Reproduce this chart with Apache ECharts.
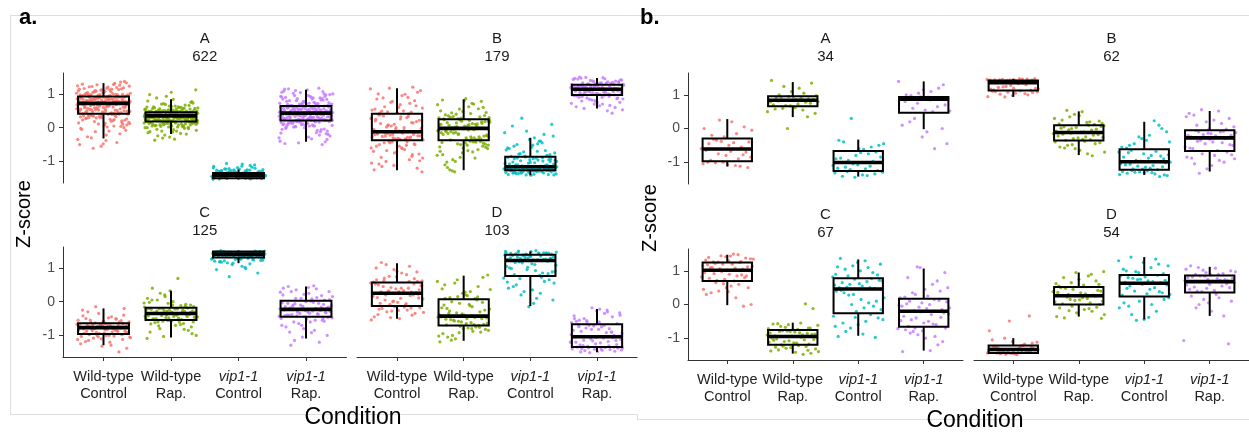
<!DOCTYPE html>
<html>
<head>
<meta charset="utf-8">
<script src="https://cdn.jsdelivr.net/npm/echarts@6/dist/echarts.min.js"></script>
<style>
  html, body { margin: 0; padding: 0; background: #fff; }
  #chart { width: 1249px; height: 435px; }
</style>
</head>
<body>
<div id="chart"></div>
<script>
// ---- conditions (x categories) ----
const genotypes = ['Wild-type', 'Wild-type', 'vip1-1', 'vip1-1'];
const treatments = ['Control', 'Rap.', 'Control', 'Rap.'];
const facetNames = ['A', 'B', 'C', 'D'];
const geneCountsA = [622, 179, 125, 103];
const geneCountsB = [34, 62, 67, 54];
const yTickValues = [-1, 0, 1];

// ---- box statistics: [lower whisker, Q1, median, Q3, upper whisker] per condition ----
const boxA_A = [[-0.32, 0.41, 0.72, 0.92, 1.32], [-0.19, 0.18, 0.35, 0.46, 0.84], [-1.53, -1.50, -1.41, -1.34, -1.24], [-0.42, 0.21, 0.43, 0.64, 1.12]];
const boxA_B = [[-1.26, -0.37, -0.12, 0.41, 1.17], [-1.26, -0.37, -0.02, 0.25, 0.84], [-1.41, -1.26, -1.16, -0.86, -0.30], [0.57, 0.97, 1.14, 1.27, 1.47]];
const boxA_C = [[-1.29, -0.96, -0.77, -0.64, -0.20], [-1.06, -0.54, -0.35, -0.18, 0.32], [1.14, 1.31, 1.41, 1.49, 1.52], [-1.09, -0.45, -0.23, 0.03, 0.45]];
const boxA_D = [[-0.51, -0.13, 0.25, 0.57, 1.14], [-1.16, -0.71, -0.43, 0.07, 0.77], [-0.13, 0.76, 1.22, 1.39, 1.49], [-1.49, -1.34, -1.04, -0.67, -0.22]];
const boxB_A = [[-1.13, -0.97, -0.61, -0.30, 0.28], [0.34, 0.66, 0.84, 0.96, 1.38], [-1.43, -1.26, -1.01, -0.67, -0.33], [-0.02, 0.47, 0.87, 0.94, 1.40]];
const boxB_B = [[0.94, 1.13, 1.36, 1.43, 1.48], [-0.79, -0.36, -0.12, 0.10, 0.51], [-1.38, -1.23, -0.99, -0.62, 0.20], [-1.28, -0.67, -0.28, -0.05, 0.52]];
const boxB_C = [[-0.02, 0.70, 1.02, 1.25, 1.48], [-1.46, -1.20, -0.95, -0.76, -0.54], [-0.93, -0.26, 0.46, 0.78, 1.34], [-1.37, -0.66, -0.20, 0.17, 1.07]];
const boxB_D = [[-1.48, -1.44, -1.34, -1.22, -1.00], [-0.36, 0.00, 0.26, 0.52, 0.95], [-0.44, 0.24, 0.63, 0.88, 1.41], [-0.34, 0.36, 0.68, 0.86, 1.12]];

// ---- per-gene z-scores, one list per condition ----
const ptsA_A = [
  [1.02,.95,1.21,.99,1.12,.93,1.31,1.06,.97,1.17,1.0,1.26,.94,1.09,1.14,.98,1.37,1.04,.96,1.19,1.08,1.23,.93,1.01,1.15,1.11,.97,1.28,1.05,1.33,
   .81,.74,.9,.77,.86,.73,.84,.79,.91,.76,.88,.82,.75,.87,.8,.73,.89,.78,.85,.83,.76,.9,.74,.8,.87,.78,.84,.92,.77,.82,
   .55,.43,.68,.49,.62,.46,.71,.52,.58,.44,.65,.5,.6,.42,.69,.53,.47,.64,.57,.45,.7,.51,.61,.48,.66,.54,.59,.43,.67,.56,
   .25,.38,.1,.31,-.05,.36,.18,.4,.02,.28,-.18,.33,.14,.39,-.3,.22,.07,.35,-.44,.29,.12,-.1,.37,.2,-.55,.32,.05,-.61,.26,-.38,
   1.0,1.13,.96,1.24,1.07,.94,1.18,1.03,1.29,.99,1.1,.95,1.2,1.04,1.35,.98,1.14,1.01,1.22,.93,1.08,1.16,.97,1.27,1.02,1.12,.95,
   .83,.75,.89,.78,.86,.73,.91,.8,.77,.88,.74,.85,.81,.9,.76,.84,.79,.87,.72,.82,.78,.9,.75,.86,.8,.83,.77,
   .5,.63,.45,.57,.68,.42,.54,.61,.47,.7,.52,.59,.44,.66,.49,.56,.64,.46,.71,.53,.6,.43,.67,.51,.58,.48,.65,
   .3,.15,.38,-.02,.24,.34,.08,-.22,.27,.4,.11,-.35,.19,.36,0,-.48,.23,.33,-.12,.16,.39,-.27,.04,.3,-.5,.21,.37,-.08,.13],
  [.52,.47,.63,.49,.58,.71,.5,.55,.48,.66,.53,.79,.6,.47,.51,.84,.57,.49,.69,.54,.62,.48,.75,.52,.98,.56,.5,1.12,.64,.59,
   .4,.37,.44,.36,.42,.39,.45,.38,.41,.36,.43,.4,.37,.46,.39,.42,.35,.44,.38,.41,.36,.45,.4,.43,.37,.39,.44,.42,.38,.41,
   .27,.2,.33,.24,.3,.19,.26,.34,.22,.29,.18,.31,.25,.21,.32,.28,.23,.35,.2,.27,.3,.19,.24,.33,.22,.29,.26,.21,.31,.25,
   .12,.05,.16,-.02,.09,.14,-.1,.07,.17,.02,-.15,.11,.04,.15,-.06,.1,-.19,.13,0,.08,-.24,.16,.03,-.12,.06,-.31,.1,.14,-.37,.01,
   .5,.61,.48,.56,.73,.53,.47,.67,.51,.59,.49,.88,.55,.64,.48,.52,.7,.57,.5,.62,.47,.93,.54,.6,.49,.77,1.05,
   .38,.43,.36,.41,.45,.39,.44,.37,.42,.4,.46,.36,.43,.38,.41,.45,.37,.4,.44,.39,.42,.36,.43,.38,.45,.41,.4,
   .22,.3,.19,.27,.33,.24,.2,.31,.26,.34,.21,.28,.23,.32,.25,.19,.29,.35,.22,.27,.3,.2,.33,.24,.28,.21,.26,
   .1,.15,.03,.12,-.08,.17,.06,-.03,.13,0,-.17,.09,.16,-.13,.05,.11,-.22,.14,.02,-.05,.08,-.28,.12,.04,-.1,.15,-.34],
  [-1.42,-1.38,-1.47,-1.36,-1.44,-1.5,-1.4,-1.33,-1.45,-1.39,-1.52,-1.37,-1.43,-1.35,-1.48,-1.41,-1.34,-1.46,-1.38,-1.51,
   -1.4,-1.36,-1.44,-1.49,-1.37,-1.42,-1.33,-1.47,-1.39,-1.45,-1.35,-1.5,-1.41,-1.38,-1.43,-1.36,-1.46,-1.4,-1.53,-1.34,
   -1.42,-1.37,-1.48,-1.39,-1.44,-1.35,-1.41,-1.47,-1.38,-1.43,-1.32,-1.45,-1.4,-1.36,-1.49,-1.42,-1.3,-1.46,-1.39,-1.44,
   -1.28,-1.22,-1.31,-1.18,-1.26,-1.12,-1.29,-1.24,-1.08,-1.27,-1.2,-1.3,-1.15,-1.25,-1.06,-1.29,-1.23,-1.31,-1.17,-1.27,
   -1.41,-1.45,-1.37,-1.49,-1.43,-1.35,-1.47,-1.39,-1.51,-1.42,-1.36,-1.44,-1.4,-1.48,-1.34,-1.46,-1.38,-1.5,-1.41,-1.43,
   -1.37,-1.45,-1.39,-1.47,-1.42,-1.36,-1.44,-1.4,-1.33,-1.46,-1.38,-1.52,-1.41,-1.35,-1.43,-1.48,-1.39,-1.45,-1.42,-1.37,
   -1.26,-1.21,-1.3,-1.14,-1.28,-1.1,-1.25,-1.19,-1.29,-1.23],
  [.82,.67,1.05,.73,.95,.66,1.12,.78,.88,.7,1.0,.85,.65,.92,.76,1.08,.69,.8,.98,.72,1.15,.87,.68,.93,.75,1.02,.84,.71,.9,1.17,
   .52,.45,.6,.48,.56,.63,.44,.54,.5,.61,.47,.58,.53,.64,.46,.55,.62,.49,.57,.51,.44,.59,.53,.48,.63,.46,.56,.5,.6,.54,
   .32,.23,.4,.27,.36,.22,.3,.42,.25,.34,.29,.38,.21,.33,.26,.41,.28,.35,.24,.31,.39,.22,.37,.27,.3,.43,.25,.34,.29,.36,
   .1,-.05,.17,.03,-.2,.13,.06,-.12,.19,-.3,.08,.15,-.42,0,.11,-.08,.18,-.25,.05,.14,-.5,.09,-.16,.2,.02,-.35,.12,-.02,.16,-.45,
   .7,.9,.66,1.0,.78,.85,.67,1.1,.74,.95,.69,.82,1.04,.72,.88,.65,.97,.77,1.14,.71,.86,.68,.93,.8,1.07,.73,.91,
   .47,.58,.44,.52,.62,.49,.55,.45,.6,.51,.64,.46,.57,.5,.63,.48,.54,.59,.44,.53,.61,.47,.56,.5,.62,.45,.58,
   .25,.35,.22,.31,.4,.28,.37,.23,.33,.42,.26,.3,.39,.24,.34,.29,.41,.21,.36,.27,.32,.38,.25,.3,.35,.22,.4,
   .15,.05,.19,-.1,.12,.01,-.22,.17,.07,-.33,.14,-.04,.2,.09,-.15,.03,.18,-.28,.11,-.06,.16,-.4,.06,.13,-.18,.08,-.47]
];
const ptsA_B = [
  [.55,.9,.47,1.1,.68,.43,1.2,.78,.52,.99,.62,1.05,.45,.85,.72,1.17,.58,.95,.49,.8,
   .1,-.05,.3,.02,.22,-.1,.38,.15,.05,.27,-.08,.35,.18,0,.25,.4,.08,-.02,.32,.12,
   -.2,-.3,-.15,-.35,-.25,-.13,-.32,-.18,-.28,-.22,-.36,-.16,-.26,-.14,-.33,-.21,-.29,-.17,-.24,-.34,
   -.5,-.8,-.42,-1.05,-.65,-.45,-1.2,-.72,-.55,-.95,-.4,-1.31,-.6,-.88,-.48,-1.12,-.7,-.52,-1.0,-.78,
   .6,1.0,.46,.75,1.15,.5,.88,.65,-.05,.2,.33,.07,-.11,.26,.38,.14,-.2,-.28,-.33,-.16,
   -.24,-.36,-.19,-.3,-.45,-.9,-.62,-1.15,-.5,-.75,-1.25,-.42,-.68,-.98,-.55,-1.08,-.85,-.4,-.6,0],
  [.4,.3,.62,.35,.78,.28,.5,.7,.33,.45,.86,.38,.56,.27,.68,.42,.31,.6,.48,.82,
   .1,.02,.2,.06,.15,-.01,.23,.08,.12,0,.18,.05,.24,.11,.03,.16,.21,.07,.13,.19,
   -.15,-.3,-.05,-.22,-.35,-.1,-.27,-.18,-.08,-.32,-.12,-.25,-.04,-.2,-.36,-.14,-.28,-.07,-.17,-.33,
   -.5,-.7,-.42,-.95,-.58,-.45,-1.1,-.65,-.48,-.82,-.4,-1.25,-.55,-.75,-.44,-.9,-1.31,-.62,-.52,-1.02,
   .32,.55,.29,.72,.44,.36,.8,.26,.04,.14,.22,.09,-.01,.17,.24,.1,-.06,-.16,-.24,-.3,
   -.11,-.34,-.2,-.09,-.27,-.36,-.46,-.6,-.8,-.43,-1.0,-.52,-.68,-1.18,-.41,-.88,-.57,-.72,-1.28,-.49],
  [-.7,-.5,-.8,-.35,-.62,-.45,.28,-.75,-.3,-.55,-.82,-.1,-.66,-.4,-.78,.1,-.58,-.85,-.2,-.72,
   -1.0,-.9,-1.1,-.95,-1.05,-.88,-1.14,-.98,-1.08,-.92,-1.02,-1.12,-.87,-1.06,-.96,-1.1,-.93,-1.03,-1.15,-.99,
   -1.2,-1.17,-1.24,-1.19,-1.22,-1.18,-1.25,-1.21,-1.16,-1.23,-1.19,-1.26,-1.2,-1.17,-1.22,-1.24,-1.18,-1.21,-1.25,-1.2,
   -1.3,-1.35,-1.28,-1.38,-1.32,-1.27,-1.4,-1.33,-1.29,-1.36,-1.31,-1.41,-1.28,-1.34,-1.3,-1.37,-1.27,-1.33,-1.39,-1.29,
   -.6,-.4,-.77,-.25,-.52,.05,-.68,-.84,-.15,-.48,-.9,-1.0,-.95,-1.07,-.89,-1.13,-.97,-1.04,-.92,-1.1,
   -1.18,-1.22,-1.2,-1.25,-1.17,-1.23,-1.19,-1.21,-1.24,-1.16,-1.3,-1.36,-1.28,-1.33,-1.39,-1.27,-1.32,-1.4,-1.29,-1.35],
  [1.35,1.29,1.44,1.31,1.4,1.28,1.48,1.33,1.38,1.3,1.46,1.36,1.29,1.42,1.32,1.5,1.34,1.39,1.28,1.45,
   1.2,1.16,1.25,1.18,1.22,1.15,1.26,1.19,1.23,1.17,1.21,1.24,1.15,1.2,1.27,1.18,1.22,1.16,1.25,1.19,
   1.05,.99,1.12,1.02,1.08,.98,1.1,1.04,1.13,1.0,1.07,1.11,.97,1.06,1.03,1.09,1.01,1.13,.98,1.06,
   .85,.7,.92,.6,.8,.95,.5,.88,.75,.65,.9,.43,.82,.72,.96,.57,.86,.78,.62,.93,
   1.3,1.41,1.33,1.47,1.28,1.37,1.43,1.32,1.49,1.36,1.17,1.23,1.15,1.2,1.26,1.18,1.22,1.16,1.24,1.19,
   1.0,1.08,1.12,.98,1.05,1.1,1.02,1.13,.99,1.07,.88,.75,.94,.66,.84,.53,.9,.79,.97,.7]
];
const ptsA_C = [
  [-.5,-.6,-.35,-.55,-.45,-.62,-.2,-.58,-.42,-.52,-.15,-.6,-.48,-.3,-.56,
   -.7,-.66,-.75,-.68,-.72,-.65,-.76,-.69,-.73,-.67,-.71,-.74,-.66,-.7,-.77,
   -.85,-.8,-.92,-.82,-.88,-.78,-.95,-.84,-.9,-.79,-.87,-.93,-.81,-.86,-.91,
   -1.05,-1.0,-1.15,-.98,-1.1,-1.25,-1.02,-1.08,-1.38,-1.0,-1.18,-1.49,-1.04,-1.12,-1.29,
   -.55,-.4,-.6,-.25,-.5,-.63,-.66,-.72,-.7,-.75,-.68,-.74,-.8,-.86,-.9,-.83,-.94,-.88,-1.0,-1.07,-1.2,-.98,-1.12,-1.32,-1.03],
  [-.05,.1,-.12,.25,-.15,0,.4,-.08,.15,-.16,.69,.05,-.1,.32,-.02,
   -.25,-.2,-.3,-.22,-.33,-.19,-.28,-.24,-.35,-.21,-.27,-.31,-.23,-.29,-.26,
   -.45,-.4,-.5,-.38,-.48,-.42,-.53,-.36,-.46,-.44,-.51,-.39,-.47,-.43,-.49,
   -.6,-.75,-.57,-.9,-.65,-.58,-1.0,-.7,-.62,-.85,-.56,-1.09,-.68,-.8,-.6,
   -.1,.05,-.14,.2,-.04,-.22,-.28,-.32,-.25,-.2,-.3,-.41,-.48,-.37,-.52,-.44,-.39,-.5,-.6,-.72,-.95,-.58,-.66,-.82,-1.03],
  [1.42,1.38,1.47,1.35,1.44,1.5,1.4,1.33,1.45,1.39,1.48,1.36,1.43,1.31,1.46,1.41,1.34,1.49,1.37,1.44,
   1.4,1.32,1.47,1.38,1.45,1.51,1.42,1.35,1.43,1.39,1.46,1.33,1.41,1.48,1.36,1.44,1.3,1.42,1.37,1.45,
   1.25,1.2,1.28,1.15,1.22,1.27,1.18,1.24,1.1,1.26,1.02,1.21,.85,1.28,.95,1.12,.74,1.23,1.05,1.17,
   1.43,1.37,1.46,1.4,1.34,1.48,1.42,1.36,1.45,1.39,1.5,1.32,1.44,1.38,1.41,1.47,1.35,1.43,1.3,1.26,1.19,1.24,1.14,1.28,.98],
  [.15,.08,.3,.05,.22,.4,.12,.35,.06,.25,.45,.18,.1,.28,.47,
   -.1,-.2,0,-.15,-.05,-.22,-.12,.02,-.18,-.08,-.14,-.03,-.2,-.06,-.16,
   -.3,-.4,-.26,-.35,-.43,-.28,-.38,-.32,-.45,-.25,-.36,-.42,-.29,-.34,-.4,
   -.55,-.7,-.5,-.85,-.6,-1.0,-.52,-.75,-1.2,-.65,-.48,-.92,-1.29,-.58,-.8,
   .2,.38,.1,.3,.42,-.05,-.17,-.1,-.21,-.02,-.13,-.33,-.27,-.41,-.37,-.31,-.44,-.6,-.9,-.5,-1.05,-.7,-.55,-1.15,-.47]
];
const ptsA_D = [
  [.7,.6,.9,.65,1.05,.75,.62,.85,1.16,.68,.95,.58,.8,1.1,
   .35,.3,.5,.28,.42,.55,.33,.45,.27,.38,.52,.4,.3,.47,
   .1,-.05,.2,0,.15,-.1,.05,.22,-.02,.12,.18,-.08,.08,.24,
   -.2,-.35,-.15,-.45,-.25,-.3,-.18,-.5,-.22,-.4,-.28,-.54,-.16,
   .63,.88,.74,1.0,.6,.32,.48,.4,.29,.53,.02,.17,-.06,.2,.11,-.26,-.38,-.19,-.47,-.32],
  [.2,.1,.45,.15,.6,.3,.12,.72,.25,.38,.09,.55,.79,.18,
   -.2,-.3,-.05,-.38,-.15,0,-.25,-.4,-.1,.05,-.33,-.22,-.08,-.35,
   -.5,-.6,-.45,-.68,-.55,-.48,-.65,-.52,-.7,-.58,-.46,-.62,-.53,-.67,
   -.8,-.95,-.75,-1.1,-.85,-.78,-1.05,-.9,-.73,-1.19,-.88,-1.0,-.82,
   .28,.5,.14,.65,.36,-.12,-.28,-.02,-.36,-.18,-.47,-.57,-.64,-.5,-.69,-.76,-.92,-1.02,-.8,-1.14],
  [1.42,1.4,1.46,1.44,1.5,1.41,1.48,1.43,1.45,1.39,1.47,1.51,1.42,1.44,
   1.3,1.25,1.35,1.28,1.33,1.23,1.37,1.26,1.31,1.38,1.24,1.32,1.29,1.36,
   1.0,.85,1.15,.9,1.1,.8,1.2,.95,1.05,.78,1.18,.88,1.12,.98,
   .6,.3,.7,.1,.5,.65,-.15,.4,.72,.2,.55,-.05,.45,
   1.45,1.41,1.49,1.43,1.47,1.27,1.34,1.3,1.25,1.36,1.08,.92,1.16,.83,1.02,.58,.25,.68,.05,.35],
  [-.5,-.3,-.6,-.4,-.22,-.55,-.45,-.18,-.62,-.35,-.5,-.65,-.28,-.58,
   -.8,-.7,-.95,-.75,-.88,-1.0,-.72,-.85,-.92,-.78,-1.02,-.82,-.68,-.9,
   -1.1,-1.2,-1.08,-1.3,-1.15,-1.25,-1.05,-1.18,-1.32,-1.12,-1.22,-1.28,-1.07,-1.16,
   -1.4,-1.36,-1.45,-1.38,-1.48,-1.35,-1.42,-1.51,-1.37,-1.44,-1.39,-1.47,-1.41,
   -.42,-.25,-.56,-.33,-.6,-.74,-.9,-.82,-.98,-.7,-1.14,-1.27,-1.06,-1.2,-1.31,-1.37,-1.43,-1.4,-1.49,-1.35]
];
const ptsB_A = [
  [.25,-.05,.2,-.2,.05,-.25,0,-.15, -.35,-.4,-.5,-.45,-.55,-.38,-.6,-.42,-.32,
   -.7,-.8,-.65,-.9,-.75,-.85,-.68,-.95,-.78, -1.0,-1.05,-1.1,-1.02,-1.16,-1.08,-1.0,-1.12],
  [1.2,1.0,1.35,1.1,1.43,1.05,1.25,.98, .86,.92,.88,.95,.85,.9,.93,.87,.94,
   .7,.78,.68,.8,.73,.82,.75,.67,.79, .55,.6,.45,.62,.58,.35,0,.5],
  [-.5,-.6,-.35,-.55,.3,-.45,-.62,-.4, -.7,-.8,-.9,-.75,-.95,-.85,-.72,-.88,-.98,
   -1.05,-1.1,-1.2,-1.15,-1.25,-1.08,-1.18,-1.12,-1.22, -1.3,-1.38,-1.42,-1.35,-1.45,-1.32,-1.4,-1.28],
  [1.0,1.2,1.05,1.4,1.1,.98,1.3,1.15, .88,.9,.92,.89,.93,.91,.88,.94,.9,
   .5,.6,.7,.55,.8,.65,.75,.52,.85, .2,0,-.25,.1,-.6,.3,-.45,-.1]
];
const ptsB_B = [
  [1.45,1.44,1.47,1.46,1.48,1.44,1.45,1.47,1.43,1.46,1.48,1.45,1.44,
   1.38,1.4,1.37,1.42,1.39,1.41,1.36,1.4,1.38,1.42,1.37,1.39,1.41,
   1.2,1.15,1.3,1.25,1.18,1.33,1.22,1.14,1.28,1.17,1.35,1.24,1.19,
   1.05,1.1,1.0,1.08,.95,1.12,1.02,1.07,.98,1.11,1.04,.94,1.09],
  [.2,.35,.15,.5,.25,.12,.42,.3,.18,.54,.22,.38,.14,
   -.05,0,.08,-.1,.05,-.02,.03,-.08,.1,-.04,.06,-.11,.01,
   -.2,-.3,-.15,-.25,-.35,-.18,-.28,-.22,-.33,-.14,-.26,-.32,-.17,
   -.45,-.6,-.4,-.75,-.5,-.42,-.65,-.55,-.81,-.48,-.7,-.38,-.58],
  [-.4,-.2,-.5,0,-.3,-.55,.23,-.45,-.1,-.35,-.58,.1,-.25,
   -.7,-.8,-.65,-.9,-.75,-.85,-.68,-.95,-.78,-.88,-.72,-.82,-.97,
   -1.05,-1.1,-1.2,-1.02,-1.15,-1.08,-1.22,-1.12,-1.0,-1.18,-1.06,-1.14,-1.21,
   -1.28,-1.35,-1.3,-1.4,-1.26,-1.33,-1.43,-1.29,-1.37,-1.31,-1.25,-1.38,-1.32],
  [.1,.3,0,.45,.15,.56,.05,.25,.4,-.02,.2,.35,.52,
   -.1,-.2,-.15,-.25,-.08,-.18,-.12,-.22,-.06,-.27,-.14,-.2,-.1,
   -.35,-.5,-.4,-.6,-.3,-.45,-.55,-.65,-.38,-.48,-.32,-.58,-.42,
   -.75,-.9,-.8,-1.05,-.7,-1.2,-.85,-.95,-1.33,-.78,-1.1,-.88,-1.0]
];
const ptsB_C = [
  [1.3,1.4,1.28,1.45,1.35,1.5,1.27,1.38,1.42,1.32,1.48,1.26,1.36,1.44,
   1.1,1.05,1.2,1.15,1.08,1.22,1.12,1.03,1.18,1.25,1.07,1.14,1.2,1.1,
   .8,.75,.95,.85,.72,1.0,.9,.78,.88,.98,.82,.7,.92,.85,
   .5,.3,.6,.4,0,.55,.35,-.05,.62,.45,.2,.65,.5,.38],
  [-.7,-.6,-.72,-.55,-.65,-.12,-.75,-.58,.02,-.68,-.62,-.74,-.57,-.7,
   -.8,-.85,-.9,-.78,-.88,-.82,-.93,-.86,-.79,-.91,-.84,-.8,-.89,-.94,
   -1.0,-1.05,-1.1,-.98,-1.15,-1.02,-1.18,-1.08,-1.12,-.97,-1.2,-1.04,-1.14,-1.06,
   -1.25,-1.3,-1.4,-1.22,-1.35,-1.45,-1.28,-1.38,-1.48,-1.24,-1.32,-1.42,-1.27,-1.36],
  [.9,1.1,.85,1.2,1.0,1.37,.95,1.15,.82,1.3,1.05,.88,1.25,1.12,
   .5,.6,.7,.55,.65,.48,.75,.58,.68,.52,.72,.62,.5,.77,
   0,.2,-.1,.35,.1,-.2,.4,.05,.28,-.15,.15,.42,-.05,.3,
   -.35,-.5,-.8,-.4,-.6,-.95,-.3,-.7,-.45,-.88,-.55,-.98,-.38,-.65],
  [.3,.5,.25,.8,.4,1.1,.2,.6,.35,.95,.45,.22,.7,1.12,
   -.1,0,.1,-.15,.05,-.05,.15,-.18,.08,-.12,.02,.12,-.08,-.02,
   -.3,-.45,-.25,-.55,-.35,-.6,-.4,-.28,-.5,-.65,-.38,-.22,-.48,-.58,
   -.8,-.7,-1.0,-.75,-1.2,-.9,-.72,-1.37,-.85,-1.1,-.78,-1.4,-.95,-.7]
];
const ptsB_D = [
  [-1.3,-1.4,-1.25,-1.45,-1.35,-1.2,-1.42,-1.33,-1.47,-1.28,-1.38,-1.44,
   -1.36,-1.23,-1.46,-1.32,-1.41,-1.27,-1.37,-1.48,-1.34,-1.43,-1.29,-1.39,
   -1.45,-1.31,-1.22,-1.4,-1.35,-1.47,-1.26,-1.42,-1.38,-1.44,-1.33,-1.46,
   -1.15,-1.1,-1.05,-1.18,-1.0,-1.12,-1.49,-1.44,-.34,-.49,-.78,-1.41],
  [.6,.75,.55,.9,.65,.98,.58,.8,.7,.95,.62,.85,
   .3,.4,.35,.5,.28,.45,.38,.32,.48,.42,.27,.36,
   .05,.15,.1,.2,.02,.25,.12,.08,.18,.22,0,.14,
   -.1,-.2,-.05,-.3,-.15,-.4,-.08,-.25,-.36,-.12,-.18,-.41],
  [1.0,1.2,.95,1.3,1.1,1.41,.92,1.25,1.05,1.35,.98,1.15,
   .7,.8,.65,.75,.85,.68,.78,.72,.82,.66,.87,.74,
   .3,.45,.55,.35,.6,.28,.5,.4,.58,.32,.48,.38,
   .1,-.1,0,-.3,.15,-.44,.05,-.2,-.47,.2,-.38,-.05],
  [.95,1.05,.9,1.1,1.0,.88,1.15,.92,1.02,.97,1.08,.9,
   .7,.75,.8,.72,.85,.78,.69,.82,.74,.84,.71,.77,
   .4,.5,.6,.45,.55,.38,.65,.42,.52,.62,.48,.58,
   .2,0,.1,-.2,.25,-.34,.15,-1.07,.3,-.1,-1.17,.05]
];

// ---- drawing ----
const FONT = "'Liberation Sans', Arial, Helvetica, sans-serif";
const palette = ['#F8766D', '#7CAE00', '#00BFC4', '#C77CFF'];

const panels = [
  {
    tag: 'a.', tagX: 19, counts: geneCountsA,
    boxes: [boxA_A, boxA_B, boxA_C, boxA_D],
    points: [ptsA_A, ptsA_B, ptsA_C, ptsA_D],
    cells: [[63, 73, 283.5, 110], [357, 73, 280, 110], [63, 247, 283.5, 110], [357, 247, 280, 110]],
    yMin: -1.64, yMax: 1.62, yTitle: [24, 214], xTitle: [353, 418]
  },
  {
    tag: 'b.', tagX: 640, counts: geneCountsB,
    boxes: [boxB_A, boxB_B, boxB_C, boxB_D],
    points: [ptsB_A, ptsB_B, ptsB_C, ptsB_D],
    cells: [[688, 73, 275, 111], [974, 73, 275, 111], [688, 249, 275, 111], [974, 249, 275, 111]],
    yMin: -1.65, yMax: 1.65, yTitle: [650, 218], xTitle: [975, 421]
  }
];

// horizontal jitter inside each condition column (spread of +/-0.4 category units)
function jitter(i, seed) {
  const f = (i * 0.6180339887 + seed * 0.2719) % 1;
  return (f - 0.5) * 0.8;
}

function conditionLabel(v) {
  const i = Math.round(v);
  const g = genotypes[i];
  const first = g === 'vip1-1' ? '{gi|' + g + '}' : '{g|' + g + '}';
  return first + '\n{g|' + treatments[i] + '}';
}

function renderBox(params, api) {
  const x = api.value(0);
  const lo = api.value(1), q1 = api.value(2), med = api.value(3), q3 = api.value(4), hi = api.value(5);
  const w = 0.377;
  const tl = api.coord([x - w, q3]);
  const br = api.coord([x + w, q1]);
  const mL = api.coord([x - w, med]);
  const mR = api.coord([x + w, med]);
  const top = api.coord([x, hi]);
  const bot = api.coord([x, lo]);
  return {
    type: 'group',
    children: [
      { type: 'line', shape: { x1: top[0], y1: top[1], x2: top[0], y2: tl[1] }, style: { stroke: '#000', lineWidth: 2 } },
      { type: 'line', shape: { x1: bot[0], y1: br[1], x2: bot[0], y2: bot[1] }, style: { stroke: '#000', lineWidth: 2 } },
      { type: 'rect', shape: { x: tl[0], y: tl[1], width: br[0] - tl[0], height: br[1] - tl[1] }, style: { stroke: '#000', lineWidth: 2, fill: 'none' } },
      { type: 'line', shape: { x1: mL[0], y1: mL[1], x2: mR[0], y2: mR[1] }, style: { stroke: '#000', lineWidth: 3.6 } }
    ]
  };
}

const grids = [], xAxes = [], yAxes = [], series = [];
const graphics = [];
const labelRich = {
  g: { fontFamily: FONT, fontSize: 14.5, lineHeight: 17, color: '#222' },
  gi: { fontFamily: FONT, fontSize: 14.5, lineHeight: 17, color: '#222', fontStyle: 'italic' }
};

// light frame lines around the two panels
const frame = [
  [10, 15.5, 1249, 15.5], [10.5, 15, 10.5, 414], [10, 414.5, 637, 414.5],
  [637.5, 414, 637.5, 419], [637, 419.5, 1249, 419.5]
];
frame.forEach(s => graphics.push({
  type: 'line', silent: true,
  shape: { x1: s[0], y1: s[1], x2: s[2], y2: s[3] },
  style: { stroke: '#dedede', lineWidth: 1 }
}));

panels.forEach((p, pi) => {
  p.cells.forEach((cell, f) => {
    const gi = grids.length;
    const isLeft = f % 2 === 0;
    const isBottom = f >= 2;
    grids.push({ left: cell[0], top: cell[1], width: cell[2], height: cell[3], outerBoundsMode: 'none', containLabel: false });
    xAxes.push({
      type: 'value', gridIndex: gi, min: -0.6, max: 3.6, show: isBottom,
      axisLine: { show: true, onZero: false, lineStyle: { color: '#333', width: 1 } },
      axisTick: { show: true, customValues: [0, 1, 2, 3], length: 4, lineStyle: { color: '#333', width: 1 } },
      axisLabel: { show: true, customValues: [0, 1, 2, 3], margin: 11, formatter: conditionLabel, rich: labelRich },
      splitLine: { show: false }
    });
    yAxes.push({
      type: 'value', gridIndex: gi, min: p.yMin, max: p.yMax, show: isLeft,
      axisLine: { show: true, onZero: false, lineStyle: { color: '#333', width: 1 } },
      axisTick: { show: true, customValues: yTickValues, length: 4, lineStyle: { color: '#333', width: 1 } },
      axisLabel: { show: true, customValues: yTickValues, margin: 8, fontFamily: FONT, fontSize: 14, color: '#4d4d4d' },
      splitLine: { show: false }
    });
    p.points[f].forEach((vals, c) => {
      series.push({
        type: 'scatter', xAxisIndex: gi, yAxisIndex: gi, silent: true, z: 2,
        symbolSize: 3.2,
        itemStyle: { color: palette[c], opacity: 0.85 },
        data: vals.map((y, i) => [c + jitter(i, c + f * 4 + pi * 16), y])
      });
    });
    series.push({
      type: 'custom', xAxisIndex: gi, yAxisIndex: gi, silent: true, z: 3,
      renderItem: renderBox,
      encode: { x: 0, y: [1, 2, 3, 4, 5] },
      data: p.boxes[f].map((b, i) => [i].concat(b))
    });
    // facet strip: name and gene count
    graphics.push({
      type: 'text', silent: true,
      x: cell[0] + cell[2] / 2, y: cell[1] - 25,
      style: {
        text: facetNames[f] + '\n' + p.counts[f],
        font: '15px ' + FONT, lineHeight: 18,
        textAlign: 'center', textVerticalAlign: 'middle', fill: '#1a1a1a'
      }
    });
  });
  graphics.push({
    type: 'text', silent: true, x: p.tagX, y: 18,
    style: { text: p.tag, font: 'bold 22px ' + FONT, textAlign: 'left', textVerticalAlign: 'middle', fill: '#000' }
  });
  graphics.push({
    type: 'text', silent: true, x: p.yTitle[0], y: p.yTitle[1], rotation: Math.PI / 2,
    style: { text: 'Z-score', font: '20px ' + FONT, textAlign: 'center', textVerticalAlign: 'middle', fill: '#000' }
  });
  graphics.push({
    type: 'text', silent: true, x: p.xTitle[0], y: p.xTitle[1],
    style: { text: 'Condition', font: '23px ' + FONT, textAlign: 'center', textVerticalAlign: 'middle', fill: '#000' }
  });
});

const chart = echarts.init(document.getElementById('chart'), null, { renderer: 'canvas' });
chart.setOption({
  animation: false,
  backgroundColor: '#fff',
  grid: grids,
  xAxis: xAxes,
  yAxis: yAxes,
  series: series,
  graphic: { elements: graphics }
});
</script>
</body>
</html>
